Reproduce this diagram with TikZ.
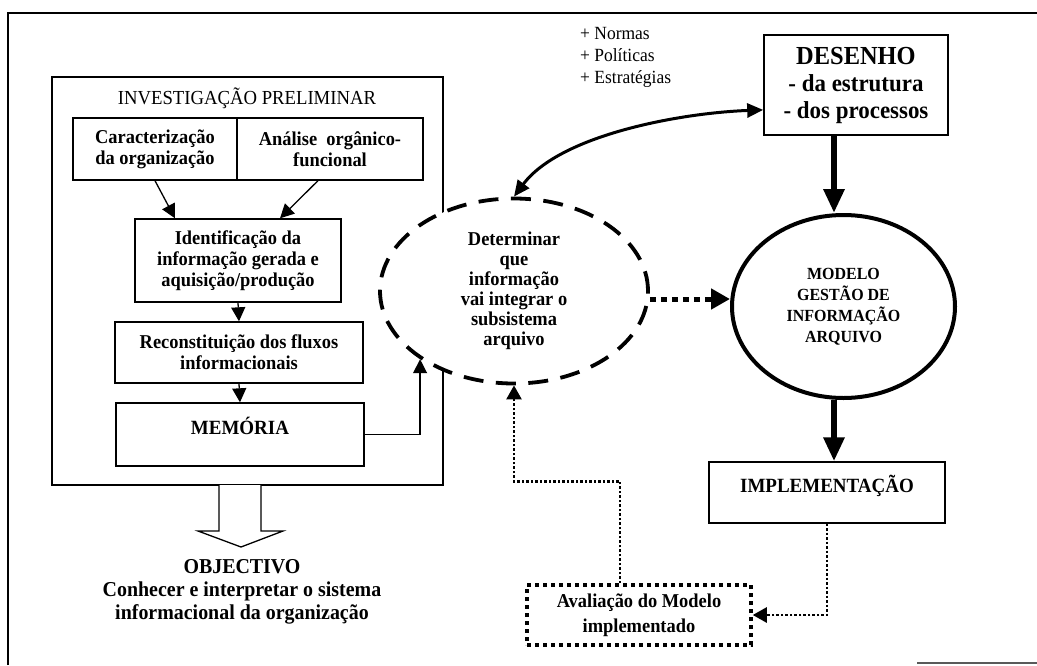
\documentclass[tikz,border=0pt]{standalone}
\usepackage{fontspec}
\setmainfont{Liberation Serif}[FakeStretch=0.94]
\usetikzlibrary{arrows.meta,shapes.geometric,calc}

\newcommand\bxfont{\fontsize{19.6}{21}\selectfont\bfseries}

\begin{document}
\begin{tikzpicture}[x=1pt,y=-1pt,
  box/.style={draw,line width=1.4pt,inner sep=0pt,align=center,font=\bxfont},
  dotbox/.style={draw,line width=3.5pt,dash pattern=on 4pt off 4pt,inner sep=0pt,align=center,font=\fontsize{19.6}{25}\selectfont\bfseries},
  thinarrow/.style={line width=1.3pt,-{Triangle[length=14pt,width=14pt]}},
  thickarrow/.style={line width=6.5pt,-{Triangle[length=24pt,width=20pt]}},
  curvearrow/.style={line width=3pt,{Triangle[length=16pt,width=14pt]}-{Triangle[length=16pt,width=14pt]}},
  dotarrow/.style={line width=2.5pt,dash pattern=on 2.5pt off 2pt,-{Triangle[length=14pt,width=15pt]}},
  bigdotarrow/.style={line width=5pt,dash pattern=on 6pt off 5pt,-{Triangle[length=19pt,width=20pt]}}
]
\useasboundingbox (0,0) rectangle (1037,665);

% page frame
\draw[line width=1.5pt] (8,665) -- (8,13) -- (1037,13);
\draw[gray!70!black,line width=1.2pt] (917,663) -- (1037,663);

% preliminary investigation block
\node[draw,line width=1.4pt,minimum width=391pt,minimum height=408pt,inner sep=0pt] (inv) at (247.5,281) {};
\node[font=\fontsize{19.9}{22}\selectfont] (invtitle) at (247,98) {INVESTIGAÇÃO PRELIMINAR};
\node[box,minimum width=164pt,minimum height=62pt] (car) at (155,149) {Caracterização\\da organização};
\node[box,minimum width=186pt,minimum height=62pt] (ana) at (330,149) {Análise\ \ orgânico-\\funcional};
\node[box,minimum width=206pt,minimum height=83pt] (ide) at (238,260.5) {Identificação da\\informação gerada e\\aquisição/produção};
\node[box,minimum width=248pt,minimum height=61pt] (rec) at (239,352.5) {Reconstituição dos fluxos\\informacionais};
\node[box,minimum width=248pt,minimum height=63pt,font=\fontsize{20.2}{21}\selectfont\bfseries] (mem) at (240,434.5) {MEMÓRIA\\[-3pt]\mbox{}};

\draw[thinarrow] (car.south) -- ([xshift=-63pt]ide.north);
\draw[thinarrow] ([xshift=-12pt]ana.south) -- ([xshift=42pt]ide.north);
\draw[thinarrow] (ide.south) -- (rec.north);
\draw[thinarrow] (rec.south) -- (mem.north);

% hollow arrow towards the objective
\coordinate (objtop) at (240,485);
\draw[line width=1.3pt,fill=white] ($(objtop)+(-21,0)$) -- ++(0,46) -- ++(-21,0)
  -- ($(objtop)+(1,62)$) -- ($(objtop)+(43,46)$) -- ++(-22,0) -- ($(objtop)+(21,0)$);
\node[font=\fontsize{21.2}{23}\selectfont\bfseries,align=center] (obj) at (242,592)
  {OBJECTIVO\\Conhecer e interpretar o sistema\\informacional da organização};

% information to integrate
\node[ellipse,draw,fill=white,line width=3.8pt,dash pattern=on 20pt off 12.5pt,
  minimum width=268pt,minimum height=185pt,inner sep=0pt,align=center,
  font=\fontsize{19.6}{20}\selectfont\bfseries] (dell) at (514,291)
  {Determinar\\que\\informação\\vai integrar o\\subsistema\\arquivo};

\draw[thinarrow] (mem.east) -| (dell.216);

% design, model, implementation
\node[anchor=north west,align=left,inner sep=0pt,font=\fontsize{18.6}{22}\selectfont] (norms) at (580,27)
  {+ Normas\\+ Políticas\\+ Estratégias};
\node[box,line width=1.6pt,minimum width=184pt,minimum height=100pt,font=\fontsize{24.4}{27}\selectfont\bfseries] (des) at (856,85)
  {{\fontsize{26}{27}\selectfont DESENHO}\\- da estrutura\\- dos processos};
\node[ellipse,draw,line width=4pt,minimum width=223pt,minimum height=183pt,inner sep=0pt,align=center,
  font=\fontsize{17}{21}\selectfont\bfseries] (modelo) at (843.5,306.5)
  {MODELO\\GESTÃO DE\\INFORMAÇÃO\\ARQUIVO};
\node[box,minimum width=236pt,minimum height=61pt,font=\fontsize{20.2}{21}\selectfont\bfseries] (impl) at (827,492.5)
  {IMPLEMENTAÇÃO\\[-3pt]\mbox{}};
\node[dotbox,minimum width=224pt,minimum height=60pt] (aval) at (639,615)
  {Avaliação do Modelo\\implementado};

\coordinate (axis) at (834,0);
\draw[thickarrow] (des.south -| axis) -- (modelo.north -| axis);
\draw[thickarrow] (modelo.south -| axis) -- (impl.north -| axis);

\draw[curvearrow] (des.195) .. controls (680,113) and (560,135) .. (dell.north);
\draw[bigdotarrow] ([yshift=-8pt]dell.east) -- ([yshift=-8pt]dell.east -| modelo.west);

\draw[dotarrow] (impl.south) |- (aval.east);
\draw[dotarrow] ([xshift=-19pt]aval.north) -- ++(0,-102) -| (dell.south);

\end{tikzpicture}
\end{document}
